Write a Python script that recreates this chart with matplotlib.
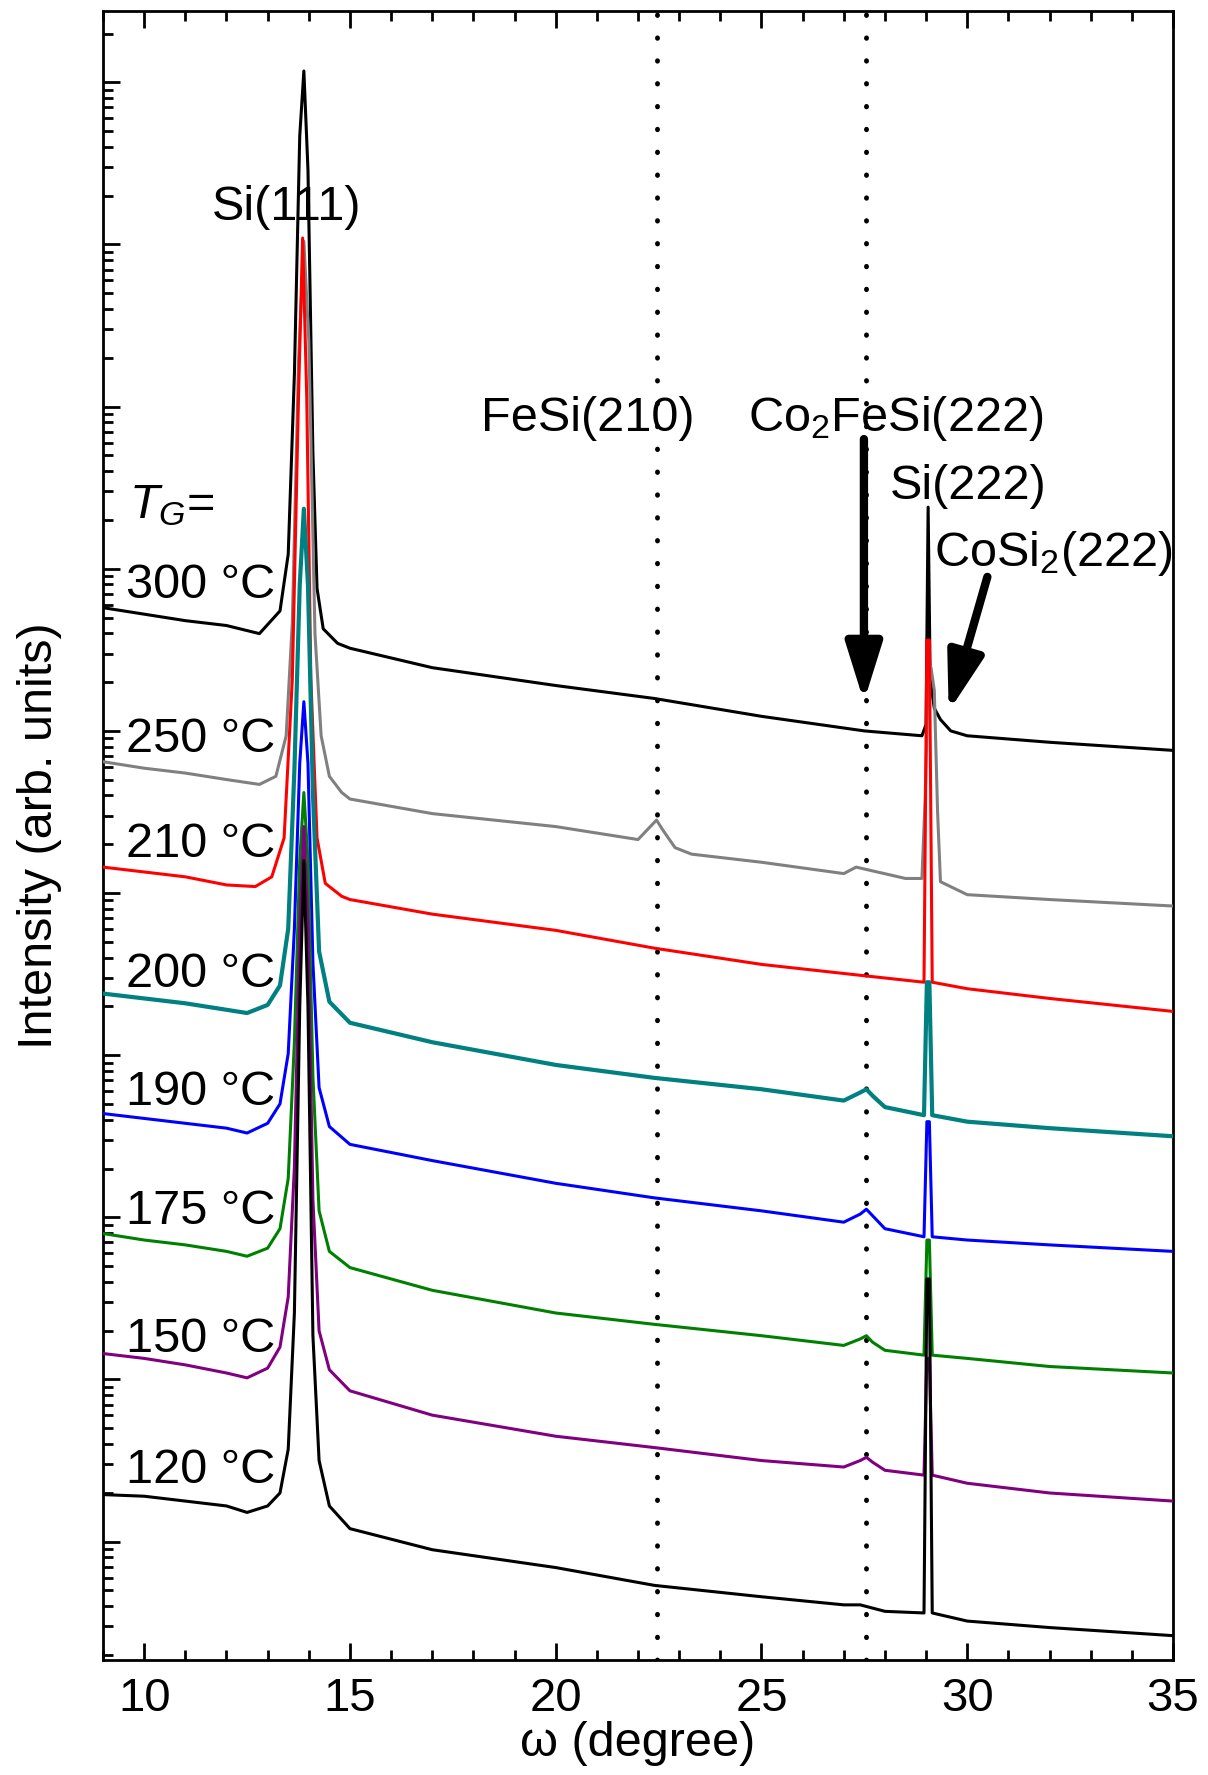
import numpy as np
import matplotlib
matplotlib.use("Agg")
import matplotlib.pyplot as plt
from matplotlib.ticker import LogLocator, NullFormatter, MultipleLocator

plt.rcParams['font.family'] = ['Liberation Sans', 'DejaVu Sans']
plt.rcParams['mathtext.fontset'] = 'custom'
plt.rcParams['mathtext.rm'] = 'Liberation Sans'
plt.rcParams['mathtext.it'] = 'Liberation Sans:italic'

# omega (degree) sampling points and log10(intensity), offset per sample
x_300 = [9, 10, 11, 12, 12.8, 13.3, 13.5, 13.65, 13.78, 13.88, 13.98, 14.1, 14.2, 14.35, 14.7, 15,
         17, 20, 22.4, 25, 27.5, 28.9, 29.0, 29.05, 29.1, 29.2, 29.35, 29.6, 30, 32, 35]
logI_300 = [5.76, 5.72, 5.68, 5.65, 5.60, 5.74, 6.09, 7.20, 8.67, 9.07, 8.46, 6.71, 5.88, 5.63, 5.54, 5.51,
            5.39, 5.28, 5.20, 5.09, 5.00, 4.97, 5.04, 6.38, 5.32, 5.14, 5.07, 5.00, 4.97, 4.93, 4.88]

x_250 = [9, 10, 11, 12, 12.8, 13.2, 13.45, 13.6, 13.75, 13.88, 14.0, 14.15, 14.3, 14.5, 14.8, 15,
         17, 20, 22.0, 22.3, 22.45, 22.6, 22.9, 23.3, 25, 27, 27.3, 28.5, 28.9, 28.98, 29.05, 29.12,
         29.2, 29.28, 29.35, 30, 32, 35]
logI_250 = [4.81, 4.77, 4.74, 4.70, 4.67, 4.72, 4.97, 5.67, 7.27, 8.02, 7.41, 5.60, 4.97, 4.72, 4.62, 4.58,
            4.49, 4.41, 4.33, 4.41, 4.45, 4.39, 4.28, 4.24, 4.19, 4.12, 4.16, 4.09, 4.09, 4.60, 5.30, 5.39,
            5.25, 4.50, 4.07, 3.99, 3.96, 3.92]

x_210 = [9, 10, 11, 12, 12.7, 13.1, 13.4, 13.6, 13.75, 13.85, 13.95, 14.05, 14.2, 14.4, 14.8, 15,
         17, 20, 22.4, 25, 27.5, 28.95, 29.02, 29.08, 29.15, 30, 32, 35]
logI_210 = [4.16, 4.13, 4.10, 4.05, 4.04, 4.10, 4.34, 5.32, 7.06, 8.04, 7.06, 5.32, 4.34, 4.06, 3.98, 3.96,
            3.87, 3.77, 3.66, 3.56, 3.49, 3.45, 5.56, 5.56, 3.45, 3.41, 3.35, 3.27]

# the five lower samples share one sampling grid
x_low = [9, 10, 11, 12, 12.5, 13.0, 13.3, 13.5, 13.65, 13.78, 13.88, 13.98, 14.1, 14.25, 14.5, 15,
         17, 20, 22.4, 25, 27.0, 27.4, 27.55, 27.7, 28.0, 28.95, 29.02, 29.08, 29.15, 30, 32, 35]
logI_200 = [3.38, 3.35, 3.32, 3.28, 3.26, 3.31, 3.43, 3.78, 4.76, 5.90, 6.37, 5.90, 4.62, 3.64, 3.33, 3.20,
            3.08, 2.94, 2.86, 2.79, 2.72, 2.77, 2.79, 2.75, 2.68, 2.63, 3.45, 3.45, 2.63, 2.59, 2.55, 2.50]
logI_190 = [2.64, 2.61, 2.58, 2.55, 2.52, 2.58, 2.70, 3.01, 3.78, 4.80, 5.18, 4.80, 3.57, 2.80, 2.56, 2.45,
            2.35, 2.21, 2.12, 2.04, 1.97, 2.02, 2.05, 2.01, 1.93, 1.88, 2.59, 2.59, 1.88, 1.86, 1.83, 1.79]
logI_175 = [1.90, 1.86, 1.83, 1.79, 1.76, 1.81, 1.93, 2.24, 3.08, 4.20, 4.62, 4.20, 2.87, 2.04, 1.79, 1.69,
            1.55, 1.41, 1.34, 1.27, 1.21, 1.25, 1.27, 1.23, 1.18, 1.15, 1.86, 1.86, 1.15, 1.13, 1.08, 1.04]
logI_150 = [1.16, 1.13, 1.09, 1.04, 1.01, 1.07, 1.20, 1.51, 2.31, 3.80, 4.41, 3.80, 2.11, 1.30, 1.06, 0.93,
            0.78, 0.65, 0.58, 0.50, 0.46, 0.50, 0.52, 0.49, 0.44, 0.41, 1.13, 1.13, 0.41, 0.36, 0.30, 0.25]
logI_120 = [0.29, 0.28, 0.25, 0.22, 0.18, 0.22, 0.30, 0.57, 1.41, 3.30, 4.20, 3.30, 1.27, 0.50, 0.22, 0.08,
            -0.05, -0.16, -0.27, -0.34, -0.39, -0.39, -0.40, -0.41, -0.43, -0.44, 1.62, 1.62, -0.44, -0.49, -0.53, -0.58]

temperatures = ["300 °C", "250 °C", "210 °C", "200 °C", "190 °C", "175 °C", "150 °C", "120 °C"]
colors = ["black", "gray", "red", "teal", "blue", "green", "purple", "black"]
feSi_pos = 22.45
co2fesi_pos = 27.55

curves = [(x_300, logI_300), (x_250, logI_250), (x_210, logI_210), (x_low, logI_200),
          (x_low, logI_190), (x_low, logI_175), (x_low, logI_150), (x_low, logI_120)]
label_y = [5.82, 4.87, 4.22, 3.42, 2.69, 1.96, 1.17, 0.36]

fig = plt.figure(figsize=(12.08, 17.75), dpi=100)
ax = fig.add_axes([0.0853, 0.0648, 0.8857, 0.929])

# top curve first, lower samples drawn in front of it
for i, (xs, ls) in enumerate(curves):
    lw = 3.0 if colors[i] == "teal" else 2.2
    ax.plot(xs, 10 ** np.array(ls), color=colors[i], lw=lw, zorder=3 + i * 0.1)

for xv in [feSi_pos, co2fesi_pos]:
    ax.axvline(xv, color="black", lw=3.5, linestyle=(0, (0.1, 4.6)), dash_capstyle="round", zorder=2)

fs = 35
for t, ly in zip(temperatures, label_y):
    ax.text(13.18, 10 ** ly, t, fontsize=fs, ha="right", va="baseline", zorder=5)
ax.text(9.64, 10 ** 6.31, "$T_G$=", fontsize=fs, ha="left", va="baseline")
ax.text(13.46, 10 ** 8.15, "Si(111)", fontsize=fs, ha="center", va="baseline")
ax.text(20.79, 10 ** 6.85, "FeSi(210)", fontsize=fs, ha="center", va="baseline")
ax.text(28.26, 10 ** 6.85, "Co$_2$FeSi(222)", fontsize=fs, ha="center", va="baseline")
ax.text(30.02, 10 ** 6.43, "Si(222)", fontsize=fs, ha="center", va="baseline")
ax.text(32.08, 10 ** 6.02, "CoSi$_2$(222)", fontsize=fs, ha="center", va="baseline")

arrow_kw = dict(arrowstyle="-|>,head_length=1.6,head_width=0.5", color="black", lw=6,
                shrinkA=0, shrinkB=0, mutation_scale=22)
ax.annotate("", xy=(27.49, 10 ** 5.18), xytext=(27.49, 10 ** 6.80), arrowprops=arrow_kw, zorder=6)
ax.annotate("", xy=(29.55, 10 ** 5.12), xytext=(30.49, 10 ** 5.95), arrowprops=arrow_kw, zorder=6)

ax.set_yscale("log")
ax.set_xlim(9, 35)
ax.set_ylim(10 ** -0.73, 10 ** 9.44)
ax.xaxis.set_major_locator(MultipleLocator(5))
ax.xaxis.set_minor_locator(MultipleLocator(1))
ax.yaxis.set_major_locator(LogLocator(base=10, numticks=20))
ax.yaxis.set_minor_locator(LogLocator(base=10, subs=np.arange(2, 10), numticks=200))
ax.yaxis.set_major_formatter(NullFormatter())
ax.yaxis.set_minor_formatter(NullFormatter())
ax.tick_params(axis="x", which="both", direction="in", top=True, labelsize=34, pad=12)
ax.tick_params(axis="y", which="both", direction="in", right=False)
ax.tick_params(which="major", length=12, width=2)
ax.tick_params(which="minor", length=7, width=2)
for s in ax.spines.values():
    s.set_linewidth(2)

ax.set_xlabel("ω (degree)", fontsize=fs, labelpad=0)
ax.set_ylabel("Intensity (arb. units)", fontsize=fs, labelpad=26)

fig.savefig("out.png", dpi=100)
